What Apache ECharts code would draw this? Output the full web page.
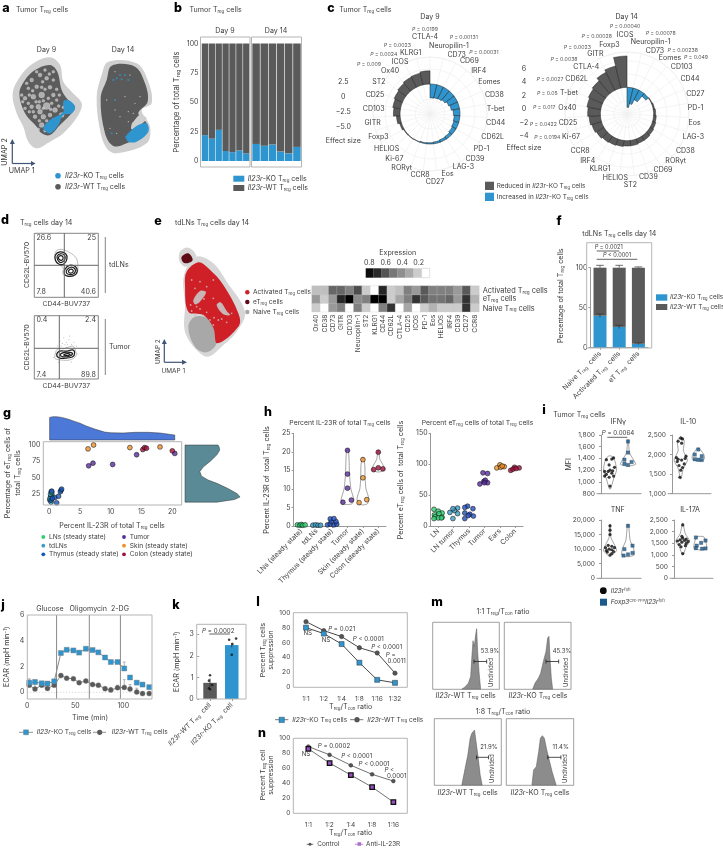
<!DOCTYPE html>
<html><head><meta charset="utf-8"><style>html,body{margin:0;background:#fff}#c{width:723px;height:848px}</style>
<script src="https://cdn.jsdelivr.net/npm/echarts@6/dist/echarts.min.js"></script></head><body><div id="c"></div>
<script>
// ---------- DATA ----------
const BLUE='#2f95cf', GREY='#5a5a5a';
// b
const bDay9KO=[22,19,26.5,8.5,7.5,9,6.5], bDay14KO=[14.5,13,14,8,6.5,12];
// c
const cDay9Labels=['Neuropilin-1','CD73','CD69','IRF4','Eomes','CD38','T-bet','CD44','CD62L','PD-1','CD39','LAG-3','Eos','CD27','CCR8','RORγt','Ki-67','HELIOS','Foxp3','GITR','CD103','CD25','ST2','Ox40','ICOS','KLRG1','CTLA-4'];
const cDay9Effect=[-2.3,-2.2,-2.1,-1.9,-1.6,-1.4,-1.1,-0.95,-0.85,-0.7,-0.5,-0.4,-0.3,-0.2,-0.15,-0.05,0.05,0.1,0.3,0.6,1.1,1.3,1.5,1.7,1.9,2.0,2.2];
const cDay14Labels=['Neuropilin-1','CD73','Eomes','CD103','CD44','CD27','PD-1','Eos','LAG-3','CD38','RORγt','CD69','CD39','ST2','HELIOS','KLRG1','IRF4','CCR8','Ki-67','CD25','Ox40','T-bet','CD62L','CTLA-4','GITR','Foxp3','ICOS'];
const cDay14Effect=[-3,-2.4,-1.6,-0.5,0.1,0.2,0.3,0.4,0.5,0.6,0.7,0.7,0.8,0.8,0.9,1.0,1.1,1.3,1.5,1.7,1.9,2.1,2.3,2.5,3.0,3.4,4.7];
// e heat map
const hmGenes=['Ox40','CD38','CD73','GITR','CD103','Neuropilin-1','ST2','KLRG1','CD44','CD62L','CTLA-4','CD25','ICOS','PD-1','Eos','HELIOS','IRF4','CD39','CD27','CCR8'];
const hmRows=['Naive','eT','Activated'];
const hmActivated=[.25,.25,.6,.6,.5,.7,.2,0,.85,.2,.25,.5,.4,.65,.5,.5,.5,.4,.65,.2];
const hmET=[.4,.2,.4,.85,1,.45,.5,1,1,.2,.35,.5,.8,.65,.55,.55,.6,.4,.8,.3];
const hmNaive=[.2,0,.4,.5,0,.5,.2,0,.5,.8,0,.35,0,.2,.3,.2,.2,.2,.8,.2];
// f
const fCats=['Naive','Activated','eT'], fKO=[40,26,5], fKOerr=[2,2,1], fWTerr=[3,3,1];
// g
const gLN=[[.2,20],[.3,28],[.1,15],[.4,24],[.2,18]];
const gTd=[[.3,12],[.2,24],[.4,27],[.1,17]];
const gThy=[[1.2,11],[.9,19],[1.5,21],[1.9,30],[1.8,28],[2,32],[.4,29],[.3,15],[.5,18]];
const gTumor=[[6.4,68],[7.1,72],[10.3,70],[14.2,85],[20.4,87]];
const gSkin=[[6.3,94],[7.2,100],[13.1,96],[18,97]];
const gColon=[[15.2,93],[15.5,96],[15.8,95],[20,91]];
const gTopDensity=[[0.05,.97],[.6,1],[1.2,1],[2,.97],[3,.9],[4,.81],[5,.72],[6,.6],[7.5,.46],[9,.34],[10,.31],[12,.3],[14,.33],[16,.33],[18,.3],[20.4,.21]];
const gRightDensity=[[.6,100],[.62,97],[.63,92],[.58,85],[.46,75],[.33,66],[.27,59],[.3,52],[.42,46],[.58,41],[.78,33],[.95,25],[1,20],[.9,16],[.58,12]];
// h (jitter in category units, value)
const hL=[[[-.25,.3],[-.1,.2],[0,.4],[.1,.2],[.25,.3]],[[-.25,.2],[-.08,.3],[.08,.2],[.25,.2]],[[-.3,.3],[-.12,.5],[.12,.3],[.3,.5],[-.05,1.2],[.25,1.2],[-.12,1.9],[.12,2]],[[0,20.4],[0,14],[0,10.2],[.25,7],[-.3,6.4]],[[0,17.9],[0,13],[.25,7.1],[-.25,6.3]],[[0,19.9],[-.3,15.2],[0,15.7],[.3,15.4]]];
const hR=[[[-.28,27],[0,24],[.25,21],[-.25,18],[.05,20],[.25,14],[-.2,15],[0,13],[-.28,12],[.2,13]],[[-.25,22],[.25,29],[.25,20],[-.05,12],[.05,25],[-.05,28]],[[-.1,32],[.25,28],[-.28,30],[-.28,21],[.05,19],[.28,16],[-.05,17],[-.28,12]],[[-.1,86],[.2,85],[-.05,72],[.2,70],[-.3,68],[.05,74],[0,70]],[[-.2,94],[0,99],[.28,96],[.05,95],[.15,97]],[[-.3,90],[-.05,95],[.25,94],[-.15,92],[.05,93]]];
const hLViolins=[[],[],[],[[20.8,.05],[18,.1],[14,.13],[10,.22],[7,.42],[6,.3],[5.8,.05]],[[18.4,.05],[16,.13],[13,.14],[10,.2],[7.5,.38],[6,.3],[5.7,.05]],[[20.4,.03],[18,.1],[16.5,.3],[15.2,.42],[14.6,.1]]];
const hColors=['#2fcf72','#3a9cc6','#1f4fc0','#5a2aa0','#f09028','#a50f3c'];
// i
const iIFN=[[[0,930],[-.05,1080],[.2,1100],[-.2,1130],[.1,1150],[-.3,1180],[.15,1190],[0,1200],[.25,1250],[-.05,1290],[-.2,1380],[.1,1390],[.2,1410],[-.3,1100],[-.1,1180]],[[0,1690],[0,1500],[-.2,1380],[.2,1340],[-.2,1310],[0,1290]]];
const iIL10=[[[-.05,1420],[0,1600],[.1,1670],[-.1,1720],[.2,1760],[-.2,1820],[.05,1860],[-.15,1880],[.25,1900],[-.25,1920],[.3,1960],[.05,2290],[-.15,2340],[.1,2400],[0,2420]],[[0,2130],[-.2,2000],[.2,1960],[-.2,1880],[.2,1860],[0,1870]]];
const iTNF=[[[0,8000],[.1,8500],[-.15,9000],[.2,9200],[-.2,9500],[.1,9800],[-.05,10000],[.25,10500],[-.25,10500],[.1,11000],[-.1,11300],[0,15000],[0,16500],[0,18000]],[[0,18000],[.25,11200],[-.2,10000],[.25,8700],[0,8200],[-.25,7800]]];
const iIL17=[[[0,1060],[-.1,1350],[.15,1400],[-.2,1450],[.2,1500],[-.05,1550],[.3,1580],[-.3,1600],[.1,1620],[-.15,1650],[.2,1680],[0,1720],[-.05,1800],[0,2290]],[[-.25,1750],[.05,1520],[.3,1620],[-.2,1400],[-.25,1290],[.1,1270],[.3,1280]]];
const iIFNv=[[[880,.03],[1050,.2],[1200,.36],[1350,.28],[1440,.1]],[[1720,.02],[1500,.08],[1380,.3],[1300,.42],[1270,.05]]];
const iIL10v=[[[1380,.02],[1650,.15],[1850,.38],[2100,.15],[2350,.2],[2460,.03]],[[2160,.05],[2000,.32],[1880,.34],[1830,.05]]];
const iTNFv=[[[7500,.04],[9500,.36],[11500,.25],[14000,.05],[18500,.03]],[[18500,.03],[13000,.12],[10000,.32],[8000,.34],[7400,.05]]];
const iIL17v=[[[1000,.02],[1350,.2],[1600,.4],[1900,.15],[2350,.02]],[[1780,.2],[1500,.34],[1280,.36],[1220,.05]]];
// j
const jT=[2,8,15,21,28,35,41,48,54,61,68,74,81,87,94,101,107,114,120,127];
const jKO=[.75,.8,.7,.68,.85,3.05,3.3,3.25,3.08,3.38,3.28,3.1,2.7,2.35,2.35,1.85,1.15,.75,.6,.4];
const jKOerr=[.3,.15,.1,.1,.1,.05,.05,.05,.05,.08,.05,.05,.05,.05,.05,.5,.05,.05,.05,.05];
const jWT=[.55,.25,.55,.3,.55,1.3,1.1,1.05,.75,.88,.6,.55,.28,.18,.35,.38,.25,.02,-.1,-.1];
const jWTerr=[.4,.4,.1,.3,.2,.15,.1,.1,.1,.1,.1,.1,.15,.2,.2,.6,.35,.3,.1,.1];
const jInjections=[30.5,64.6,97];
// k
const kCats=['Il23r-WT','Il23r-KO'], kMeans=[.75,2.5];
const kPoints=[[[0,1.1],[-.05,.85],[.1,.65],[-.05,.5],[0,.45]],[[-.12,2.75],[.2,2.8],[.03,2.55],[0,2.05]]];
// l, n
const lCats=['1:1','1:2','1:4','1:8','1:16','1:32'], lWT=[88,76,68,53,46,19], lKO=[80,72,58,33,10,6];
const nCats=['1:1','1:2','1:4','1:8','1:16'], nCtrl=[89,78,64,52,43], nAnti=[86,67,51,35,15];
// m
const mA=[[43.5,0],[48.5,3.5],[53.5,9],[57,19],[59,51.5],[60.5,72.5],[62.5,64],[64.5,81.5],[66,90.5],[67.5,56.5],[69.5,26.5],[72,0]];
const mB=[[42.5,0],[46,9],[51,16.5],[54.5,24],[58.5,41.5],[62.5,56.5],[65,76.5],[67,79],[68.5,46.5],[70.5,16.5],[72.5,0]];
const mC=[[41,0],[46,25.5],[50,45.5],[53.5,70.5],[56,78],[58,80.5],[60,83],[62,68],[65,45.5],[68.5,15.5],[71.5,0]];
const mD=[[38,0],[40.5,23],[44.5,28],[48,50.5],[50.5,70.5],[53.5,74.5],[56.5,70.5],[59.5,55.5],[63,40.5],[68,20.5],[74,0]];
// a (UMAP outlines and read-off speckle)
const a9Hull=[[100,190],[150,172],[180,195],[190,245],[215,275],[245,310],[235,345],[190,400],[150,425],[110,445],[85,425],[70,380],[50,340],[38,280],[60,230]];
const a9Body=[[105,210],[150,195],[172,215],[185,270],[200,295],[225,320],[215,340],[180,375],[150,405],[125,400],[110,380],[75,340],[58,280],[75,240]];
const a9Blue=[[190,305],[205,300],[225,320],[215,340],[190,345],[175,375],[150,400],[130,385],[150,360],[190,335]];
const a9Light=[[120,225],[95,240],[140,235],[110,260],[85,265],[150,262],[75,295],[100,290],[125,285],[160,285],[170,300],[95,320],[115,320],[140,318],[120,335],[165,330],[185,345],[105,350],[130,350],[150,345],[125,375],[160,240],[85,310],[145,295],[172,355],[135,210],[118,305],[65,285],[75,325],[155,310],[110,215],[128,245],[98,272],[135,268],[170,268],[178,285],[88,285],[108,305],[130,302],[88,335],[100,335],[130,325],[152,328],[176,318],[118,362],[140,362],[115,388],[135,392],[160,360],[80,250],[148,222],[160,215],[125,262],[68,305],[190,322]];
const a9LightSize=[4,4,4,4,3,4,4,5,6,4,3,4,5,7,5,5,5,4,5,4,5,3,3,3,3,3,3,3,3,3,3,3,3,3,3,3,3,3,3,3,3,3,3,3,3,3,3,3,3,3,3,3,3,3,3];
const a14Hull=[[325,185],[410,190],[445,245],[455,310],[425,330],[450,380],[440,430],[350,460],[320,445],[300,390],[290,290],[305,225]];
const a14Body=[[335,197],[405,200],[435,250],[443,305],[415,340],[440,370],[440,395],[380,430],[340,438],[315,400],[302,295],[320,240]];
const a14Blue=[[395,390],[415,375],[440,370],[445,395],[410,425],[385,425],[378,410]];
const a14LightPatch=[[400,365],[420,345],[440,355],[425,372],[395,388],[395,372]];
const a14Spots=[[350,235],[375,225],[385,240],[340,240],[365,238],[360,225],[378,410],[335,400],[345,300]];
const a14Light=[[320,300],[400,340],[385,365],[360,350],[345,330],[405,310],[420,290],[375,290],[390,225],[345,215],[350,400],[330,385],[385,335]];
// e (UMAP outlines)
const eHull=[[590,155],[640,175],[680,230],[735,320],[710,380],[670,420],[625,455],[590,435],[555,380],[555,300],[552,210]];
const eIslandHull=[[540,140],[565,128],[588,150],[582,178],[555,185],[538,168]];
const eRed=[[595,172],[625,190],[670,240],[715,325],[717,362],[652,415],[640,368],[610,330],[565,320],[555,240],[560,200]];
const eNaive=[[565,365],[585,335],[625,340],[645,370],[650,415],[620,442],[585,425]];
const eEt=[[545,155],[565,145],[578,165],[560,175],[548,170]];
const eWhite=[[[580,285],[600,258],[618,262],[600,290],[585,298]],[[650,300],[662,292],[680,318],[690,330],[670,328]]];
const eSpeck=[[590,305],[600,312],[572,300],[620,322],[630,345],[642,338],[655,345],[612,282],[585,250],[640,280],[665,342],[680,352],[695,325],[600,230],[640,225],[620,245],[575,225],[660,300],[575,318],[610,332],[640,360],[585,330]];
// d contours (percent of plot)
const dTopFaint=[[34,72],[42,75],[55,70],[65,62],[68,50],[66,36],[55,33],[45,36],[45,46],[38,52],[32,60]];
const dTopLoops=[[[33,66],[40,71],[49,68],[51,60],[46,52],[38,52],[33,58]],[[36,65],[41,68],[47,66],[48,60],[44,55],[39,55],[36,60]],[[38,63],[42,65],[45,62],[43,58],[39,59]],[[48,44],[55,50],[64,48],[67,40],[62,34],[52,33],[47,37]],[[51,43],[57,47],[63,45],[64,40],[60,36],[53,36],[50,39]],[[54,42],[58,44],[61,41],[58,38],[54,39]]];
const dBotFaint=[[32,36],[36,47],[47,48],[60,52],[64,46],[65,36],[55,30],[42,30],[33,32]];
const dBotLoops=[[[35,38],[40,44],[50,44],[60,46],[63,41],[60,35],[50,33],[40,33]],[[40,38],[47,42],[56,42],[60,40],[55,36],[45,35]],[[46,38],[52,40],[56,39],[52,37]]];
const dBotDots=[[40,60],[46,65],[50,58],[54,62],[58,55],[48,54],[44,56],[36,52],[62,58],[55,68],[42,52],[50,50],[30,34],[68,40],[38,26],[58,27],[66,52],[52,55]];

// ---------- HELPERS ----------
const FONT='Inter, "Noto Sans", sans-serif';
const TR='T{s|reg}', TC='T{s|con}';
const RICHA={s:{fontSize:4.5,fontFamily:FONT,verticalAlign:'bottom',color:'#444',padding:[3,0,0,0]},i:{fontStyle:'italic',color:'#444',fontSize:7,fontFamily:FONT}};
const grids=[],xAxes=[],yAxes=[],series=[],gfx=[];
function t(x,y,s,o={}){const size=o.size||7.1;const sub=size*.62;
 gfx.push({type:'text',x,y,rotation:(o.rot||0)*Math.PI/180,z:100,silent:true,style:{text:s,fontSize:size,fontFamily:FONT,fontWeight:o.weight||400,fill:o.color||'#3c3c3c',align:o.align||'left',verticalAlign:'middle',
  rich:{s:{fontSize:sub,fontFamily:FONT,verticalAlign:'bottom',padding:[3,0,0,0]},i:{fontStyle:'italic',fontSize:size,fontFamily:FONT},u:{fontSize:sub,fontFamily:FONT,verticalAlign:'top'}}}});}
function tc(x,y,s,o={}){t(x,y,s,{align:'center',...o});}
function letter(x,y,s){t(x,y,s,{size:12.5,weight:800,color:'#000',align:'center'});}
function ln(x1,y1,x2,y2,c='#555',w=1){gfx.push({type:'line',z:60,silent:true,shape:{x1,y1,x2,y2},style:{stroke:c,lineWidth:w}});}
function rect(x,y,w,h,fill,stroke,lw=1,z=60){gfx.push({type:'rect',z,silent:true,shape:{x,y,width:w,height:h},style:{fill:fill||'none',stroke:stroke||'none',lineWidth:lw}});}
function circ(x,y,r,fill,stroke){gfx.push({type:'circle',z:60,silent:true,shape:{cx:x,cy:y,r},style:{fill,stroke:stroke||'none',lineWidth:.6}});}
function tri(pts,fill){gfx.push({type:'polygon',z:60,silent:true,shape:{points:pts},style:{fill}});}
function frame(x1,y1,x2,y2,c='#b5b5b5',w=1){rect(x1,y1,x2-x1,y2-y1,null,c,w);}
function G(box,x,y){grids.push({left:box[0],top:box[1],width:box[2]-box[0],height:box[3]-box[1]});const gi=grids.length-1;xAxes.push({gridIndex:gi,...x});yAxes.push({gridIndex:gi,...y});return {x:xAxes.length-1,y:yAxes.length-1,gi};}
function addX(g,n){xAxes.push({gridIndex:g.gi,type:'value',show:false,min:0,max:n,splitLine:{show:false}});return xAxes.length-1;}
const hv=(min,max,inverse)=>({type:'value',show:false,min,max,inverse:!!inverse,splitLine:{show:false}});
const vAxis=(min,max,interval,extra={})=>({type:'value',min,max,interval,splitLine:{show:false},axisLine:{show:true,lineStyle:{color:'#999',width:1}},axisTick:{show:true,length:2,lineStyle:{color:'#999'}},axisLabel:{fontSize:7,fontFamily:FONT,color:'#444',margin:3,showMaxLabel:true,showMinLabel:true,...(extra.label||{})},...(extra.axis||{})});
const cAxis=(data,extra={})=>({type:'category',data,splitLine:{show:false},axisLine:{show:true,lineStyle:{color:'#999',width:1}},axisTick:{show:true,length:2,alignWithLabel:true,lineStyle:{color:'#999'}},axisLabel:{fontSize:7,fontFamily:FONT,color:'#444',margin:4,interval:0,hideOverlap:false,rich:RICHA,...(extra.label||{})},...(extra.axis||{})});
function poly(xi,yi,pts,fill,o={}){series.push({type:'custom',xAxisIndex:xi,yAxisIndex:yi,clip:false,silent:true,z:o.z||2,data:pts,encode:{x:0,y:1},renderItem(p,api){if(p.dataIndex!==0)return null;return {type:'polygon',shape:{points:pts.map(q=>api.coord(q)),smooth:o.smooth===undefined?0.35:o.smooth},style:{fill,stroke:o.stroke||'none',lineWidth:o.lw||.7}};}});}
function segs(xi,yi,data,color,w=.8,z=3,dash){series.push({type:'custom',xAxisIndex:xi,yAxisIndex:yi,clip:false,silent:true,z,data,renderItem(p,api){const a=api.coord([api.value(0),api.value(1)]),b=api.coord([api.value(2),api.value(3)]);return {type:'line',shape:{x1:a[0],y1:a[1],x2:b[0],y2:b[1]},style:{stroke:color,lineWidth:w,lineDash:dash||null}};}});}
function dots(xi,yi,data,color,size=5,sym='circle',o={}){series.push({type:'scatter',xAxisIndex:xi,yAxisIndex:yi,data,symbol:sym,symbolSize:size,clip:false,silent:true,z:o.z||4,itemStyle:{color,borderColor:o.border===undefined?'#111':o.border,borderWidth:o.bw===undefined?.7:o.bw}});}
function swarmPts(groups,i){return groups[i].map(q=>[i+.5+q[0],q[1]]);}
function violin(xi,yi,i,shape){const L=shape.map(q=>[i+.5-q[1],q[0]]),R=shape.map(q=>[i+.5+q[1],q[0]]).reverse();poly(xi,yi,L.concat(R),'#fff',{stroke:'#666',lw:.6,z:3,smooth:0.2});}

// ---------- PANELS ----------
[[6,8,'a'],[178,8,'b'],[331,8,'c'],[5,220,'d'],[158,221,'e'],[559,221,'f'],[7,413,'g'],[268,412,'h'],[544,410,'i'],[3,605,'j'],[176,605,'k'],[258,602,'l'],[437,602,'m'],[262,733,'n']].forEach(q=>letter(q[0],q[1],q[2]));

// a
const ga=G([0,0,170,170],hv(0,510),hv(0,510,true));
[a9Hull,a14Hull].forEach(h=>poly(ga.x,ga.y,h,'#cfcfcf'));
poly(ga.x,ga.y,a9Body,'#5c5c5c',{z:3});poly(ga.x,ga.y,a14Body,'#5a5a5a',{z:3});
dots(ga.x,ga.y,a9Light.map((p,i)=>[p[0],p[1],a9LightSize[i]]),'#c4c4c4',p=>p[2],'circle',{border:'#fff',bw:.2,z:4});
dots(ga.x,ga.y,a14Light,'#cfcfcf',1.4,'circle',{border:'none',bw:0,z:4});
poly(ga.x,ga.y,a9Blue,BLUE,{z:5});poly(ga.x,ga.y,a14LightPatch,'#cfcfcf',{z:4});poly(ga.x,ga.y,a14Blue,BLUE,{z:5});
dots(ga.x,ga.y,a14Spots,BLUE,2,'circle',{border:'none',bw:0,z:5});
t(16,10,'Tumor '+TR+' cells');t(189.5,10,'Tumor '+TR+' cells');
tc(46.5,50,'Day 9');tc(123,50,'Day 14');
const ARR='#3f5577';
ln(12.3,163.5,12.3,142,ARR,1.2);ln(12.3,163.5,33,163.5,ARR,1.2);tri([[12.3,139],[9.8,144],[14.8,144]],ARR);tri([[35.5,163.5],[31,161],[31,166]],ARR);
tc(5.3,152,'UMAP 2',{rot:90});tc(21.7,170.7,'UMAP 1');
circ(58,175.7,2.8,BLUE);circ(58,186.7,2.8,GREY);
t(65,175.7,'{i|Il23r}-KO '+TR+' cells');t(65,186.7,'{i|Il23r}-WT '+TR+' cells');

// b
const bAxis=(n)=>({...cAxis(Array.from({length:n},(_,i)=>i+1)),show:false});
const gb1=G([201.5,43.5,249.7,161],bAxis(7),vAxis(0,100,25,{axis:{axisLine:{show:false},axisTick:{show:false}}}));
const gb2=G([252,43.5,301,161],bAxis(6),{...hv(0,100)});
[[gb1,bDay9KO],[gb2,bDay14KO]].forEach(([g,d])=>{
 series.push({type:'bar',stack:'s'+g.gi,xAxisIndex:g.x,yAxisIndex:g.y,data:d,barCategoryGap:'8%',itemStyle:{color:BLUE}});
 series.push({type:'bar',stack:'s'+g.gi,xAxisIndex:g.x,yAxisIndex:g.y,data:d.map(v=>100-v),barCategoryGap:'8%',itemStyle:{color:GREY}});
});
frame(200.5,37,250,167);frame(251.5,37,301.5,167);
tc(225,30.7,'Day 9');tc(276,30.7,'Day 14');
tc(176.7,102,'Percentage of total '+TR+' cells',{rot:90,size:7.6});
rect(233.3,175.7,11,6,BLUE);rect(233.3,185,11,6,GREY);
t(247.7,178.7,'{i|Il23r}-KO '+TR+' cells');t(247.7,188,'{i|Il23r}-WT '+TR+' cells');

// c
const polarList=[],angleList=[],radList=[];
function polarPanel(center,R,minV,maxV,interval,labels,values){
 const pi=polarList.length;
 polarList.push({center,radius:[0,R]});
 angleList.push({polarIndex:pi,type:'category',data:labels,startAngle:90,clockwise:true,axisTick:{show:false},axisLine:{lineStyle:{color:'#efefef',width:.8}},splitLine:{show:true,lineStyle:{color:'#efefef',width:.7}},axisLabel:{show:false}});
 radList.push({polarIndex:pi,type:'value',min:minV,max:maxV,interval,axisLine:{show:false},axisTick:{show:false},axisLabel:{show:false},splitLine:{show:true,lineStyle:{color:'#efefef',width:.7}},z:1});
 series.push({type:'bar',coordinateSystem:'polar',polarIndex:pi,barCategoryGap:'0%',silent:true,data:values.map(v=>({value:v,itemStyle:{color:v<0?BLUE:GREY,borderColor:'#222',borderWidth:.5}}))});
}
polarPanel([430,114],57,-5,4.5,2.5,cDay9Labels,cDay9Effect);
polarPanel([627,114],62,-4,5.3,2,cDay14Labels,cDay14Effect);
const cDay9LabelAt=[[447,138],[470,166],[508,184],[536,212],[568,247],[583,286],[587,327],[587,370],[578,410],[545,447],[525,478],[490,501],[443,522],[405,547],[360,525],[305,504],[283,478],[260,447],[235,410],[218,370],[221,328],[225,286],[237,247],[270,212],[300,185],[332,160],[375,111]];
const cDay14LabelAt=[[1052,126],[1065,152],[1110,173],[1145,201],[1170,238],[1186,281],[1187,323],[1184,369],[1180,412],[1156,452],[1127,484],[1089,509],[1045,531],[991,554],[946,533],[900,507],[863,482],[840,452],[813,412],[804,369],[802,323],[807,280],[830,238],[859,201],[886,163],[928,134],[975,104]];
cDay9Labels.forEach((s,i)=>tc(300+cDay9LabelAt[i][0]/3,cDay9LabelAt[i][1]/3,s,{size:7}));
cDay14Labels.forEach((s,i)=>tc(300+cDay14LabelAt[i][0]/3,cDay14LabelAt[i][1]/3,s,{size:7}));
t(339.3,10,'Tumor '+TR+' cells');tc(430,17.3,'Day 9');tc(626.7,17.3,'Day 14');
const PS=5.2, PC='#555';
[[425,29.3,'0.0199'],[463.7,37.3,'0.00131'],[397.3,45,'0.0023'],[484,52.7,'0.00031'],[383.7,54.3,'0.0024'],[369,64.3,'0.009'],
 [625,26.7,'0.00040'],[596.7,36.3,'0.00028'],[660.7,33.7,'0.00078'],[577.3,47.7,'0.0023'],[682.7,50,'0.00238'],[696,57.3,'0.049'],[564,59.7,'0.0038'],[550,79.3,'0.0027'],[547.3,93,'0.05'],[544.3,107.7,'0.017'],[543.3,124.7,'0.0422'],[547.3,137.7,'0.0194']].forEach(q=>tc(q[0],q[1],'{i|P} = '+q[2],{size:PS,color:PC}));
[[81.7,'2.5'],[96.7,'0'],[111.7,'−2.5'],[126.7,'−5.0']].forEach(q=>tc(343.3,q[0],q[1]));tc(343.3,141,'Effect size');
[[69,'6'],[82.3,'4'],[96,'2'],[109,'0'],[122.7,'−2'],[135.7,'−4']].forEach(q=>tc(524,q[0],q[1]));tc(524,148.3,'Effect size');
rect(485,181.7,9,8.3,GREY);rect(485,192.7,9,8.3,BLUE);
t(496.7,186,'Reduced in {i|Il23r}-KO '+TR+' cells',{size:6.4});t(496.7,197,'Increased in {i|Il23r}-KO '+TR+' cells',{size:6.4});

// d
function contour(box,cross,faint,loops,extraDots){
 const g=G(box,hv(0,100),hv(0,100));
 if(extraDots) dots(g.x,g.y,extraDots,'#999',1,'circle',{border:'none',bw:0});
 poly(g.x,g.y,faint,'none',{stroke:'#aaa',lw:.8});
 loops.forEach(l=>poly(g.x,g.y,l,'none',{stroke:'#1c1c1c',lw:1.2,z:4}));
 frame(box[0],box[1],box[2],box[3],'#666',.8);
 ln(cross[0],box[1],cross[0],box[3],'#666',1);ln(box[0],cross[1],box[2],cross[1],'#666',1);
}
contour([34.3,233.3,98.3,297.3],[64.3,265.3],dTopFaint,dTopLoops);
contour([34.3,315.7,98.3,379],[59.3,348.3],dBotFaint,dBotLoops,dBotDots);
t(20,223.3,TR+' cells day 14');
t(36.5,238.3,'26.6');t(96,238.3,'25',{align:'right'});t(36.5,291.7,'7.8');t(96,291.7,'40.6',{align:'right'});
t(36.5,320,'0.4');t(96,320,'2.4',{align:'right'});t(36.5,375,'7.4');t(96,375,'89.8',{align:'right'});
tc(26.7,265,'CD62L-BV570',{rot:90,size:6.8});tc(26.7,347.3,'CD62L-BV570',{rot:90,size:6.8});
tc(66.3,304,'CD44-BUV737',{size:6.8});tc(66.3,386,'CD44-BUV737',{size:6.8});
ln(105.3,237,105.3,293,'#666',.8);ln(105.3,319,105.3,375,'#666',.8);
t(109,265,'tdLNs');t(109,347,'Tumor');

// e
const ge=G([0,205,360,390],hv(0,1080),hv(0,555,true));
poly(ge.x,ge.y,eHull,'#d6d6d6');poly(ge.x,ge.y,eIslandHull,'#d6d6d6');
poly(ge.x,ge.y,eNaive,'#a8a8a8',{z:3});poly(ge.x,ge.y,eRed,'#cf2027',{z:4});
eWhite.forEach(w=>poly(ge.x,ge.y,w,'#c9b5b5',{z:5}));
dots(ge.x,ge.y,eSpeck,'#cdbebe',1.8,'circle',{border:'none',bw:0,z:5});
poly(ge.x,ge.y,eEt,'#5e0a14',{z:5});
t(175,223.3,'tdLNs '+TR+' cells day 14');
ln(164.3,362.3,164.3,342,ARR,1.2);ln(164.3,362.3,184,362.3,ARR,1.2);tri([[164.3,339],[161.8,344],[166.8,344]],ARR);tri([[187,362.3],[182,359.8],[182,364.8]],ARR);
tc(157.7,351.7,'UMAP 2',{rot:90,size:6.4});tc(173.3,370.7,'UMAP 1',{size:6.4});
circ(247.3,292.3,2.2,'#cf2027');circ(247.3,302,2.2,'#5e0a14');circ(247.3,312,2.2,'#a8a8a8');
t(253,292.3,'Activated '+TR+' cells',{size:6.6});t(253,302,'eT'+'{s|reg} cells',{size:6.6});t(253,312,'Naive '+TR+' cells',{size:6.6});
const gh=G([312,286,479,311.7],cAxis(hmGenes,{axis:{axisLine:{show:false},axisTick:{show:false}},label:{rotate:90,margin:3,fontSize:6.6}}),{type:'category',data:hmRows,show:false});
const hmData=[];[hmNaive,hmET,hmActivated].forEach((r,ri)=>r.forEach((v,ci)=>hmData.push([ci,ri,v])));
series.push({type:'heatmap',xAxisIndex:gh.x,yAxisIndex:gh.y,data:hmData,silent:true,itemStyle:{borderColor:'#c8c8c8',borderWidth:.3},id:'hm'});
tc(397.7,252.7,'Expression');
[[369.3,'0.8'],[385.7,'0.6'],[402.3,'0.4'],[418.7,'0.2']].forEach(q=>tc(q[0],263.3,q[1]));
['#0d0d0d','#2a2a2a','#555','#777','#8f8f8f','#aaa','#ccc','#fff'].forEach((c,i)=>rect(365.7+i*8,268.3,8,9.4,c,i===7?'#ccc':null,.6));
t(482.7,290.7,'Activated '+TR+' cells',{size:7.4});t(482.7,298.9,'eT{s|reg} cells',{size:7.4});t(482.7,308.3,'Naive '+TR+' cells',{size:7.4});

// f
const gf=G([590.4,267.7,648,347.7],cAxis(fCats,{label:{rotate:45,margin:5,fontSize:7,formatter:v=>v+' T{s|reg}  cells'}}),vAxis(0,100,50));
series.push({type:'bar',stack:'f',xAxisIndex:gf.x,yAxisIndex:gf.y,data:fKO,barWidth:13,itemStyle:{color:BLUE}});
series.push({type:'bar',stack:'f',xAxisIndex:gf.x,yAxisIndex:gf.y,data:fKO.map(v=>100-v),barWidth:13,itemStyle:{color:GREY}});
const fx=addX(gf,3);
const fSeg=[];fKO.forEach((v,i)=>{const c=i+.5;fSeg.push([c,v-fKOerr[i],c,v+fKOerr[i]],[c-.2,v+fKOerr[i],c+.2,v+fKOerr[i]],[c,100,c,100+fWTerr[i]],[c-.2,100+fWTerr[i],c+.2,100+fWTerr[i]]);});
segs(fx,gf.y,fSeg,'#333',.7,5);
frame(586.7,242.7,651.7,348);
tc(608.7,247,'{i|P} = 0.0021',{size:5.6});ln(596.7,251,619.3,251,'#555',.9);
tc(617,255.7,'{i|P} < 0.0001',{size:5.6});ln(596.7,259.3,637.3,259.3,'#555',.9);
tc(619.3,234.3,'tdLNs '+TR+' cells day 14');
tc(561,295.7,'Percentage of total '+TR+' cells',{rot:90});
rect(656,294.3,11.3,6.4,BLUE);rect(656,304,11.3,6,GREY);
t(670,297.5,'{i|Il23r}-KO '+TR+' cells',{size:6.4});t(670,307.3,'{i|Il23r}-WT '+TR+' cells',{size:6.4});

// g
const gg=G([49.3,445,172.3,493.7],vAxis(0,20,5,{axis:{axisLine:{show:false},axisTick:{show:false},position:'bottom',offset:11.3}}),vAxis(25,100,25,{axis:{axisLine:{show:false},axisTick:{show:false},offset:6}}));
[[gLN,hColors[0]],[gTd,hColors[1]],[gThy,'#1558bd'],[gTumor,hColors[3]],[gSkin,hColors[4]],[gColon,hColors[5]]].forEach(q=>dots(gg.x,gg.y,q[0],q[1],4.8));
frame(43.3,441.7,181.7,505);
const ggt=G([49.3,416.7,172.3,440],hv(0,20),hv(0,1));
poly(ggt.x,ggt.y,[[0.05,0]].concat(gTopDensity,[[20.4,0]]),'#4c78d8',{stroke:'#333',lw:.5,smooth:0});
const ggr=G([185,445,240,493.7],hv(0,1),hv(25,100));
poly(ggr.x,ggr.y,[[0,100]].concat(gRightDensity,[[0,12]]),'#5a8a96',{stroke:'#333',lw:.5,smooth:0});
tc(8.3,473,'Percentage of eT{s|reg} cells of',{rot:90});tc(18.3,473,'total '+TR+' cells',{rot:90});
tc(112,526,'Percent IL-23R of total '+TR+' cells');
[[43.3,537,hColors[0],'LNs (steady state)'],[43.3,545.7,hColors[1],'tdLNs'],[43.3,554.3,'#1558bd','Thymus (steady state)'],[124,537,hColors[3],'Tumor'],[124,545.7,hColors[4],'Skin (steady state)'],[124,554.3,hColors[5],'Colon (steady state)']].forEach(q=>{circ(q[0],q[1],1.9,q[2]);t(q[0]+5.7,q[1],q[3],{size:6.6});});

// h
const hLCats=['LNs (steady state)','tdLNs','Thymus (steady state)','Tumor','Skin (steady state)','Colon (steady state)'];
const hRCats=['LN','LN tumor','Thymus','Tumor','Ears','Colon'];
const gh1=G([293.6,433.3,386,526],cAxis(hLCats,{label:{rotate:45,margin:4}}),vAxis(0,25,5));
const hx1=addX(gh1,6);
hLViolins.forEach((s,i)=>{if(s.length)violin(hx1,gh1.y,i,s);});
hL.forEach((_,i)=>dots(hx1,gh1.y,swarmPts(hL,i),hColors[i],4.8));
const gh2=G([430.6,433.3,523,526],cAxis(hRCats,{label:{rotate:45,margin:4}}),vAxis(0,150,50));
const hx2=addX(gh2,6);
hR.forEach((_,i)=>dots(hx2,gh2.y,swarmPts(hR,i),hColors[i],4.8));
tc(340,423.3,'Percent IL-23R of total '+TR+' cells',{size:6.8});
t(421.7,423.3,'Percent eT{s|reg} cells of total '+TR+' cells',{size:6.8});
tc(267,480,'Percent IL-23R of  total '+TR+' cells',{rot:90});
tc(401,480,'Percent eT{s|reg} cells of  total '+TR+' cells',{rot:90});

// i
const fmt=v=>v.toLocaleString('en-US');
function iPanel(box,min,max,intv,groups,vs){
 const g=G(box,{type:'category',data:['a','b'],show:false},vAxis(min,max,intv,{axis:{offset:3},label:{formatter:fmt,fontSize:6.6}}));
 const xi=addX(g,2);
 segs(xi,g.y,[[-.25,min,2.25,min]],'#999',1,2);
 violin(xi,g.y,0,vs[0]);violin(xi,g.y,1,vs[1]);
 dots(xi,g.y,swarmPts(groups,0),'#0a0a0a',3.2,'circle',{border:'none',bw:0});
 dots(xi,g.y,swarmPts(groups,1),'#1a5a8c',3.4,'rect',{border:'#123',bw:.3});
}
iPanel([601,435,637,493.7],800,1800,200,iIFN,iIFNv);
iPanel([672,435,707,493.7],1000,2500,500,iIL10,iIL10v);
iPanel([601,520,637,578.3],0,20000,5000,iTNF,iTNFv);
iPanel([674,520,709,578.3],0,2500,500,iIL17,iIL17v);
t(553.3,415,'Tumor '+TR+' cells');tc(618.3,422.3,'IFNγ');tc(688.3,422.3,'IL-10');tc(617.7,510.3,'TNF');tc(690,510.3,'IL-17A');
tc(618,432.7,'{i|P} = 0.0064',{size:6.2});ln(607.3,437.3,627.3,437.3,'#555',.9);
tc(569.3,464.3,'MFI',{rot:90});
circ(603.3,590.7,3.4,'#0a0a0a');rect(600,598.7,7,7,'#1a5a8c');
t(610.7,590.7,'{i|Il23r}{u|fl/fl}',{size:6.4});t(610.7,602,'{i|Foxp3}{u|Cre-YFP}{i|Il23r}{u|fl/fl}',{size:6.4});

// j
const gj=G([27.3,615,123.3,692.3],vAxis(0,100,50,{axis:{axisLine:{show:false},axisTick:{show:false},offset:6.7}}),vAxis(0,6,2,{axis:{axisLine:{show:false},axisTick:{show:false}}}));
segs(gj.x,gj.y,jInjections.map(v=>[v,-.5,v,6]),'#8a8a8a',1,2);
segs(gj.x,gj.y,[[0,0,130,0]],'#bbb',.7,2,[1,2]);
const jE=[];jT.forEach((x,i)=>{jE.push([x,jKO[i],x,jKO[i]+jKOerr[i]],[x-1.5,jKO[i]+jKOerr[i],x+1.5,jKO[i]+jKOerr[i]],[x,jWT[i],x,jWT[i]+jWTerr[i]],[x-1.5,jWT[i]+jWTerr[i],x+1.5,jWT[i]+jWTerr[i]]);});
segs(gj.x,gj.y,jE,'#999',.7,2);
const jLine=(d,c,sym,s)=>series.push({type:'line',xAxisIndex:gj.x,yAxisIndex:gj.y,data:d.map((v,i)=>[jT[i],v]),symbol:sym,symbolSize:s,clip:false,z:4,lineStyle:{color:'#888',width:1},itemStyle:{color:c,borderColor:'#777',borderWidth:.4}});
jLine(jWT,GREY,'circle',5);jLine(jKO,BLUE,'rect',5);
frame(27.3,615,152,699);
tc(50,609,'Glucose');tc(88.3,609,'Oligomycin');tc(120,609,'2-DG');
tc(7.3,656.7,'ECAR (mpH min{u|−1})',{rot:90});tc(90,718.3,'Time (min)');
ln(19,732.3,33,732.3,'#777',.8);rect(23.5,729.8,5,5,BLUE,'#777',.4);
ln(93,732.3,106,732.3,'#777',.8);circ(99.7,732.3,2.6,GREY);
t(36.7,732.3,'{i|Il23r}-KO '+TR+' cells',{size:6.6});t(111.7,732.3,'{i|Il23r}-WT '+TR+' cells',{size:6.6});

// k
const gk=G([199.2,634.3,242.6,699],cAxis(kCats,{axis:{axisLine:{show:false}},label:{rotate:45,margin:5,formatter:v=>'{i|'+v+'} T{s|reg}  cell'}}),vAxis(0,3,1,{axis:{axisLine:{show:false},offset:2.5}}));
series.push({type:'bar',xAxisIndex:gk.x,yAxisIndex:gk.y,barWidth:13.5,data:kMeans.map((v,i)=>({value:v,itemStyle:{color:i?BLUE:GREY}}))});
const kx=addX(gk,2);
segs(kx,gk.y,[[.5,.55,.5,.95],[1.5,2.4,1.5,2.6]],'#222',.7,4);
dots(kx,gk.y,swarmPts(kPoints,0),'#111',2.6,'circle',{border:'none',bw:0,z:5});
dots(kx,gk.y,swarmPts(kPoints,1),'#111',2.6,'circle',{border:'none',bw:0,z:5});
frame(196.7,624.3,246,699);
tc(218.3,630.7,'{i|P} = 0.0002',{size:6.2});ln(209.3,634,230,634,'#555',.9);
tc(176.7,661.7,'ECAR (mpH min{u|−1})',{rot:90});

// l
const lineAxis=(cats)=>cAxis(cats,{axis:{axisLine:{show:false},axisTick:{show:false}},label:{margin:8,fontSize:6.6}});
const gl=G([297.1,612.7,403.9,687.3],lineAxis(lCats),vAxis(0,100,20,{axis:{axisLine:{show:false},axisTick:{length:2},offset:3.8},label:{fontSize:6.6}}));
const ser=(g,d,c,sym,s,b,w=.9)=>series.push({type:'line',xAxisIndex:g.x,yAxisIndex:g.y,data:d,symbol:sym,symbolSize:s,clip:false,z:4,lineStyle:{color:'#333',width:w},itemStyle:{color:c,borderColor:b,borderWidth:.5}});
ser(gl,lWT,'#555','circle',4.4,'#333');ser(gl,lKO,BLUE,'rect',5,'#333');
frame(293.3,612.7,407.3,687.3);
[[341.7,629,'{i|P} = 0.021'],[307.7,632.7,'NS'],[326,640,'NS'],[368.3,639.3,'{i|P} < 0.0001'],[386.7,647.3,'{i|P} < 0.0001'],[390.7,655,'{i|P} ='],[396.7,661,'0.0011']].forEach(q=>tc(q[0],q[1],q[2],{size:6.2}));
tc(263.3,650,'Percent '+TR+' cells',{rot:90,size:6.8});tc(270.7,650,'suppression',{rot:90,size:6.8});
tc(350.7,707.3,TR+'/'+TC+' ratio');
ln(275,719.7,288.3,719.7,'#555',.8);rect(279,717.2,5.4,5.4,BLUE,'#333',.4);t(292.3,719.7,'{i|Il23r}-KO '+TR+' cells',{size:6.6});
ln(350,719.7,363.3,719.7,'#555',.8);circ(357,719.7,2.6,'#555');t(367.3,719.7,'{i|Il23r}-WT '+TR+' cells',{size:6.6});

// n
const gn=G([297.7,738.3,404,813.3],lineAxis(nCats),vAxis(0,100,20,{axis:{axisLine:{show:false},axisTick:{length:2},offset:4.4},label:{fontSize:6.6}}));
ser(gn,nCtrl,'#555','circle',3.8,'#333',.7);ser(gn,nAnti,'#9a4fc0','rect',4.5,'#111',.7);
series[series.length-1].itemStyle.borderWidth=1.3;
frame(293.3,738.3,407.3,813.3);
[[334,745.7,'{i|P} = 0.0002'],[306,754.3,'NS'],[356.7,756,'{i|P} < 0.0001'],[374,764.3,'{i|P} < 0.0001'],[389.3,770,'{i|P} <'],[396.7,775.7,'0.0001']].forEach(q=>tc(q[0],q[1],q[2],{size:6.2}));
tc(263.3,775,'Percent '+TR+' cell',{rot:90,size:6.8});tc(270.7,775,'suppression',{rot:90,size:6.8});
tc(350.7,833.3,TR+'/'+TC+' ratio');
ln(306.7,844.3,313.3,844.3,'#555',.8);circ(310,844.3,1.5,'#555');t(317.3,844.3,'Control',{size:6.4});
ln(355,844.3,363.3,844.3,'#b070d0',.8);rect(357.5,842.2,3.6,3.6,'#b070d0');t(366,844.3,'Anti-IL-23R',{size:6.4});

// m
function hist(box,data,gate,pct,pctX,pctY,undX){
 const g=G(box,hv(0,100),hv(0,100));
 poly(g.x,g.y,data,'#8c8c8c',{stroke:'#555',lw:.5,smooth:0});
 segs(g.x,g.y,[[gate[0],gate[2],gate[1],gate[2]],[gate[0],gate[2]-3,gate[0],gate[2]+3],[gate[1],gate[2]-3,gate[1],gate[2]+3]],'#222',.8,5);
 frame(box[0],box[1],box[2],box[3],'#888',.8);
 tc(pctX,pctY,pct,{size:6});
 tc(undX,(box[1]+box[3])/2+(box[3]-box[1])*.25,'Undivided',{rot:90,size:6});
}
hist([432.7,622.3,499.3,689.3],mA,[62,81,41.5],'53.9%',490,651.7,491);
hist([504.3,622.3,571,689.3],mB,[62.5,81.5,41.5],'45.3%',562,651.7,566.7);
hist([434.3,718.7,501.3,785.3],mC,[63,81,42],'21.9%',489,747.7,492);
hist([506.3,718.7,573.7,785.3],mD,[61.5,81,42],'11.4%',560.7,747.7,565.7);
tc(503,612,'1:1 '+TR+'/'+TC+' ratio');tc(503,712,'1:8 '+TR+'/'+TC+' ratio');
tc(465.7,696,'{i|Il23r}-WT '+TR+' cells');tc(538,696,'{i|Il23r}-KO '+TR+' cells');
tc(467.7,792.7,'{i|Il23r}-WT '+TR+' cells');tc(540,792.7,'{i|Il23r}-KO '+TR+' cells');

// ---------- OPTION ----------
const chart=echarts.init(document.getElementById('c'),null,{renderer:'canvas',devicePixelRatio:1});
const hmIdx=series.findIndex(s=>s.id==='hm');
chart.setOption({animation:false,backgroundColor:'#fff',textStyle:{fontFamily:FONT},grid:grids,xAxis:xAxes,yAxis:yAxes,polar:polarList,angleAxis:angleList,radiusAxis:radList,
 visualMap:{show:false,min:0,max:1,seriesIndex:hmIdx,dimension:2,inRange:{color:['#ffffff','#000000']}},
 series,graphic:{elements:gfx}});
</script></body></html>
